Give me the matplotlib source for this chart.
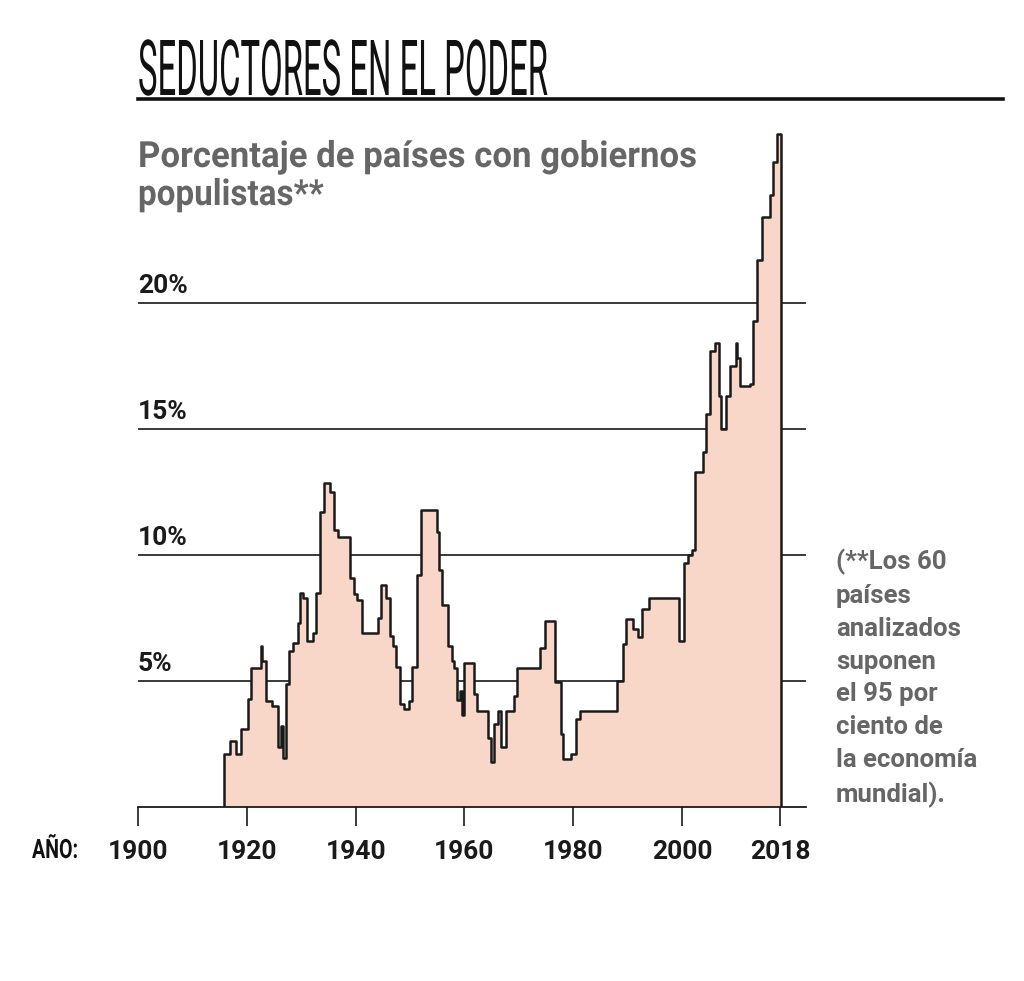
import matplotlib
matplotlib.use("Agg")
import matplotlib.pyplot as plt
import matplotlib.patheffects as pe
from matplotlib.transforms import Affine2D
import numpy as np

# ------------------------------------------------------------------
# Datos: cambios de escalón (año, % de países con gobiernos populistas)
# ------------------------------------------------------------------
anios = [1915.8, 1917.0, 1918.0, 1918.9, 1920.2, 1920.8, 1922.6, 1922.75, 1923.6,
         1924.6, 1925.7, 1926.2, 1926.7, 1927.2, 1927.8, 1928.4, 1929.4, 1929.8,
         1930.4, 1931.0, 1932.1, 1932.7, 1933.5, 1934.1, 1935.3, 1936.0, 1936.7,
         1939.0, 1939.7, 1940.3, 1941.1, 1944.2, 1944.7, 1945.5, 1946.4, 1946.8,
         1947.4, 1948.2, 1948.8, 1949.9, 1950.4, 1951.2, 1952.0, 1954.9, 1955.4,
         1955.9, 1956.9, 1957.8, 1958.1, 1958.7, 1959.1, 1959.5, 1960.0, 1961.8,
         1962.4, 1964.4, 1964.8, 1965.4, 1966.2, 1966.7, 1967.6, 1969.2, 1969.6,
         1973.8, 1974.8, 1976.7, 1977.7, 1978.1, 1979.5, 1980.5, 1981.2, 1988.1,
         1989.1, 1989.7, 1990.9, 1991.9, 1992.7, 1993.9, 1999.5, 2000.4, 2001.0,
         2001.8, 2002.3, 2003.8, 2004.4, 2005.1, 2006.1, 2006.7, 2007.1, 2008.0,
         2008.9, 2009.9, 2010.05, 2010.7, 2012.5, 2013.0, 2013.7, 2014.6, 2016.2,
         2016.8, 2017.4]
porcentaje = [2.1, 2.6, 2.1, 3.1, 4.3, 5.5, 6.4, 5.8, 4.2,
              4.0, 2.4, 3.2, 1.95, 4.9, 6.2, 6.5, 7.3, 8.5,
              8.3, 6.6, 6.9, 8.5, 11.7, 12.85, 12.5, 11.0, 10.7,
              9.1, 8.45, 8.2, 6.9, 7.5, 8.8, 8.3, 6.8, 6.4,
              5.55, 4.1, 3.9, 4.2, 5.55, 9.2, 11.8, 10.9, 9.4,
              8.0, 6.4, 5.8, 5.5, 4.25, 4.6, 3.65, 5.7, 4.5,
              3.8, 2.75, 1.8, 3.3, 3.8, 2.4, 3.8, 4.4, 5.5,
              6.3, 7.4, 4.95, 2.9, 1.9, 2.1, 3.5, 3.8, 5.0,
              6.45, 7.45, 7.05, 6.75, 7.85, 8.3, 6.6, 9.7, 10.0,
              10.2, 13.3, 14.1, 15.6, 18.1, 18.4, 16.3, 15.0, 16.3,
              17.5, 18.4, 17.8, 16.7, 16.8, 19.3, 21.7, 23.4, 24.3,
              25.6, 26.7]
anio_final = 2018.1

niveles = [5, 10, 15, 20]
etiquetas_y = ["5%", "10%", "15%", "20%"]
ticks_x = [1900, 1920, 1940, 1960, 1980, 2000, 2018]

COLOR_RELLENO = "#f8d6c8"
GRIS = "#666666"

W, H = 1024, 981


def fx(x):
    return x / W


def fy(y):
    return 1 - y / H


class Estirar(pe.AbstractPathEffect):
    """Escala el texto (sx en horizontal, sy en vertical) desde su borde izquierdo y su linea base."""

    def __init__(self, sx, sy, x0_frac, y0_frac):
        super().__init__()
        self.sx, self.sy = sx, sy
        self.x0_frac, self.y0_frac = x0_frac, y0_frac

    def draw_path(self, renderer, gc, tpath, affine, rgbFace=None):
        x0 = self.x0_frac * renderer.width
        y0 = self.y0_frac * renderer.height
        t = affine + Affine2D().translate(-x0, -y0).scale(self.sx, self.sy).translate(x0, y0)
        renderer.draw_path(gc, tpath, t, rgbFace)


plt.rcParams["font.family"] = ["Roboto", "DejaVu Sans"]

fig = plt.figure(figsize=(W / 100, H / 100), dpi=100)
ax = fig.add_axes([fx(138), fy(807), fx(806) - fx(138), fy(126.6) - fy(807)])

x_max = 1900 + (806 - 138) / ((780 - 138) / 118)
ax.set_xlim(1900, x_max)
ax.set_ylim(0, 27)

# lineas de referencia (por debajo del relleno)
for v in niveles:
    ax.axhline(v, color="#2b2b2b", lw=1.3, zorder=1)

# serie escalonada
xs = np.array([anios[0]] + anios + [anio_final, anio_final])
ys = np.array([0] + porcentaje + [porcentaje[-1], 0])
ax.fill_between(xs, ys, step="post", color=COLOR_RELLENO, lw=0, zorder=2)
ax.plot(xs, ys, drawstyle="steps-post", color="#1a1a1a", lw=1.8, zorder=3)

for v, et in zip(niveles, etiquetas_y):
    ax.annotate(et, xy=(1900, v), xytext=(0, 3.5), textcoords="offset points",
                ha="left", va="bottom", fontsize=19, fontweight="bold",
                color="#1a1a1a", zorder=4)

for s in ["top", "right", "left"]:
    ax.spines[s].set_visible(False)
ax.spines["bottom"].set_color("#1a1a1a")
ax.spines["bottom"].set_linewidth(1.3)
ax.set_yticks([])
ax.set_xticks(ticks_x)
ax.set_xticklabels([str(t) for t in ticks_x], fontsize=19, fontweight="bold",
                   color="#1a1a1a")
ax.tick_params(axis="x", direction="out", length=14, width=1.2, color="#1a1a1a", pad=9.5)

# textos
titulo = fig.text(fx(138), fy(95), "SEDUCTORES EN EL PODER", fontsize=40,
                  fontweight="normal", color="#111111", va="baseline", ha="left")
fig.add_artist(plt.Line2D([fx(138), fx(1003)], [fy(98.5), fy(98.5)],
                          color="#111111", lw=2.6))

sub1 = fig.text(fx(138), fy(167), "Porcentaje de países con gobiernos",
                fontsize=26, fontweight="bold", color=GRIS, va="baseline")
sub2 = fig.text(fx(138), fy(205), "populistas**",
                fontsize=26, fontweight="bold", color=GRIS, va="baseline")

nota = fig.text(fx(836), fy(549), "(**Los 60\npaíses\nanalizados\nsuponen\nel 95 por\n"
                "ciento de\nla economía\nmundial).", fontsize=18.5, fontweight="bold",
                color=GRIS, va="top", ha="left", linespacing=1.46)

anio = fig.text(fx(32), fy(858), "AÑO:", fontsize=19.2, fontweight="bold",
                color="#111111", va="baseline", ha="left")

# ajustar los textos a su ancho (y alto de mayusculas) en la referencia
fig.canvas.draw()
renderer = fig.canvas.get_renderer()
ajustes = [(titulo, 410, 55 / (0.711 * 40 * 100 / 72), 95),
           (sub1, 560, 1.0, 167), (sub2, 186, 1.0, 205), (anio, 46, 1.0, 858)]
for txt, ancho, sy, base in ajustes:
    bb = txt.get_window_extent(renderer)
    txt.set_path_effects([Estirar(ancho / bb.width, sy, bb.x0 / renderer.width, fy(base))])

fig.savefig("out.png", dpi=100)
